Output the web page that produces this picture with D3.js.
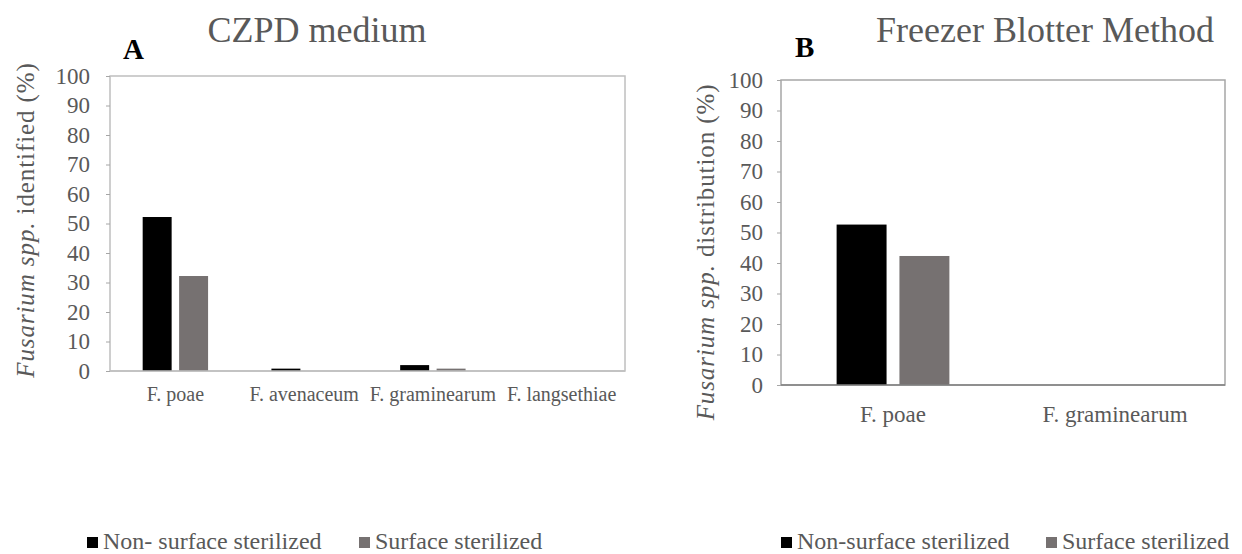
<!DOCTYPE html>
<meta charset="utf-8">
<head>
<style>
body { margin: 0; background: #fff; }
text { font-family: "Liberation Serif", "Times New Roman", Times, "DejaVu Serif", serif; }
.tick text { fill: #595959; font-size: 23px; }
.tick line { stroke: #a6a6a6; }
.xlab { fill: #595959; font-size: 20px; }
.title { fill: #595959; font-size: 36px; }
.letter { fill: #000; font-size: 29px; font-weight: bold; }
.ytitle { fill: #595959; font-size: 25px; letter-spacing: 0.9px; }
.legend text { fill: #595959; font-size: 24px; }
</style>
</head>
<body>
<script src="https://cdn.jsdelivr.net/npm/d3@7/dist/d3.min.js"></script>
<script>

// panel A - CZPD medium
var speciesA = ["F. poae", "F. avenaceum", "F. graminearum", "F. langsethiae"];
var nonSterA = [52.2, 0.8, 2, 0];
var sterA = [32.2, 0, 0.8, 0];

// panel B - freezer blotter
var speciesB = ["F. poae", "F. graminearum"];
var nonSterB = [52.6, 0];
var sterB = [42.3, 0];

var yTicks = [0, 10, 20, 30, 40, 50, 60, 70, 80, 90, 100];
var colors = ["#000000", "#767171"];

var svg = d3.select("body").append("svg")
    .attr("width", 1242)
    .attr("height", 554);

var drawPanel = function(p) {
    var y = d3.scaleLinear().domain([0, 100]).range([p.bottom, p.top]);
    var x = d3.scaleBand().domain(p.cats).range([p.left, p.right]);
    var bw = x.bandwidth();
    var barW = bw * 0.225, gap = bw * 0.058;

    var g = svg.append("g");

    // plot frame
    g.append("rect")
        .attr("x", p.left).attr("y", p.top)
        .attr("width", p.right - p.left).attr("height", p.bottom - p.top)
        .attr("fill", "none")
        .attr("stroke", p.frame)
        .attr("stroke-width", 1.5);

    var yAxis = g.append("g")
        .attr("transform", "translate(" + p.left + ",0)")
        .call(d3.axisLeft(y).tickValues(yTicks).tickSize(4).tickPadding(p.pad));
    yAxis.attr("font-family", null).attr("font-size", null);
    yAxis.select(".domain").remove();
    yAxis.selectAll(".tick line").attr("stroke", p.frame);

    var series = [p.s1, p.s2];
    series.forEach(function(vals, si) {
        g.selectAll(".bar" + si)
            .data(vals)
            .enter()
            .append("rect")
            .attr("x", function(d, i) {
                var c = x(p.cats[i]) + bw / 2 + 1;
                return si == 0 ? c - gap / 2 - barW : c + gap / 2;
            })
            .attr("y", function(d) { return y(d); })
            .attr("width", barW)
            .attr("height", function(d) { return p.bottom - y(d); })
            .attr("fill", colors[si]);
    });

    // redraw baseline on top
    g.append("line")
        .attr("x1", p.left).attr("x2", p.right)
        .attr("y1", p.bottom).attr("y2", p.bottom)
        .attr("stroke", p.base).attr("stroke-width", 1.5);

    g.selectAll(".xlab")
        .data(p.cats)
        .enter()
        .append("text")
        .attr("class", "xlab")
        .style("font-size", p.xfs + "px")
        .attr("x", function(d) { return x(d) + bw / 2 + 1; })
        .attr("y", p.bottom + p.xoff)
        .attr("text-anchor", "middle")
        .text(function(d) { return d; });

    g.append("text").attr("class", "title")
        .attr("x", p.titleX).attr("y", p.titleY)
        .attr("text-anchor", "middle")
        .text(p.title);

    g.append("text").attr("class", "letter")
        .attr("x", p.letterX).attr("y", p.letterY)
        .text(p.letter);

    var yt = g.append("text").attr("class", "ytitle")
        .attr("transform", "translate(" + p.ytX + "," + p.ytY + ") rotate(-90)")
        .attr("text-anchor", "middle");
    yt.append("tspan").style("font-style", "italic").text("Fusarium spp.");
    yt.append("tspan").text(" " + p.ytitle);

    var leg = g.append("g").attr("class", "legend");
    p.names.forEach(function(n, i) {
        leg.append("rect")
            .attr("x", p.legX[i]).attr("y", p.legY - 12)
            .attr("width", 11).attr("height", 11)
            .attr("fill", colors[i]);
        leg.append("text")
            .attr("x", p.legX[i] + 16).attr("y", p.legY)
            .text(n);
    });
};

drawPanel({
    cats: speciesA, s1: nonSterA, s2: sterA,
    left: 110, right: 625, top: 76, bottom: 371,
    frame: "#bfbfbf", base: "#bfbfbf", pad: 16,
    xfs: 20, xoff: 30,
    title: "CZPD medium", titleX: 317, titleY: 42,
    letter: "A", letterX: 123, letterY: 59,
    ytitle: "identified (%)", ytX: 34, ytY: 220,
    names: ["Non- surface sterilized", "Surface sterilized"],
    legX: [87, 359], legY: 549
});

drawPanel({
    cats: speciesB, s1: nonSterB, s2: sterB,
    left: 781, right: 1225, top: 80, bottom: 385,
    frame: "#a6a6a6", base: "#808080", pad: 14,
    xfs: 23, xoff: 37,
    title: "Freezer Blotter Method", titleX: 1045, titleY: 42,
    letter: "B", letterX: 795, letterY: 57,
    ytitle: "distribution (%)", ytX: 714, ytY: 252,
    names: ["Non-surface sterilized", "Surface sterilized"],
    legX: [781, 1046], legY: 549
});

</script>
</body>
